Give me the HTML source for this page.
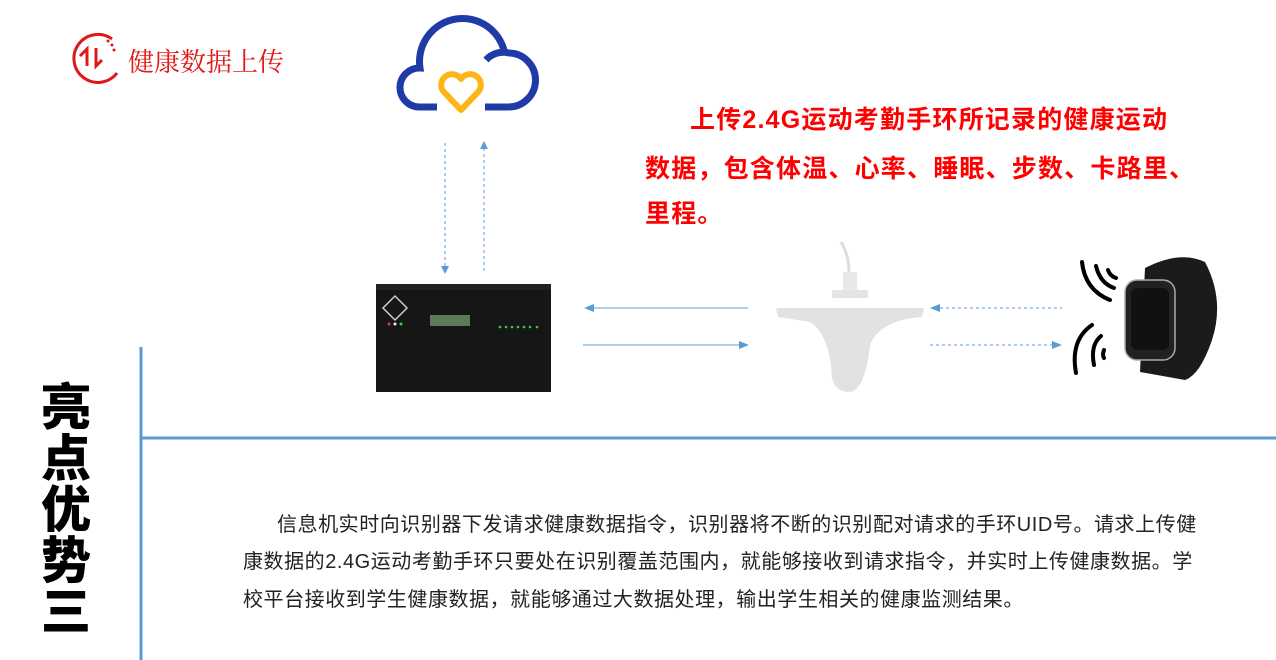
<!DOCTYPE html>
<html><head><meta charset="utf-8"><style>
body{margin:0;width:1276px;height:660px;background:#fff;position:relative;overflow:hidden;font-family:"Liberation Sans","Noto Sans CJK SC",sans-serif}
.a{position:absolute}
.red{color:#f00;font-weight:bold;font-size:25px;white-space:nowrap;letter-spacing:1.2px}
.body{font-size:20px;color:#222;white-space:nowrap;letter-spacing:0.55px}
.title{font-size:50px;font-weight:900;color:#000;line-height:51px;width:60px;text-align:center}
</style></head><body>
<svg class="a" style="left:0;top:0" width="1276" height="660">
<path d="M112 39 A24 24 0 1 0 117 73" fill="none" stroke="#e01818" stroke-width="3"/>
<circle cx="108" cy="41" r="1.5" fill="#e01818"/><circle cx="112" cy="45" r="1.5" fill="#e01818"/><circle cx="114" cy="50" r="1.5" fill="#e01818"/>
<path d="M80 56 L87 49 L87 66 M96 48 L96 66 L102 60" fill="none" stroke="#e01818" stroke-width="3"/>
<path d="M437 107 L419 107 A19 19 0 0 1 420 68 A40 40 0 0 1 505 55 M486 60 A23 23 0 0 1 509 53 A27 27 0 0 1 508 107 L485 107" fill="none" stroke="#1f3ba8" stroke-width="7"/>
<path d="M461 110 L443 91 A10 10 0 0 1 461 79 A10 10 0 0 1 479 91 Z" fill="none" stroke="#fdb515" stroke-width="6" stroke-linejoin="round"/>
<line x1="445" y1="143" x2="445" y2="268" stroke="#5b9bd5" stroke-dasharray="3,3"/>
<polygon points="441,266 449,266 445,274" fill="#5b9bd5"/>
<line x1="484" y1="148" x2="484" y2="272" stroke="#5b9bd5" stroke-dasharray="3,3"/>
<polygon points="480,149 488,149 484,141" fill="#5b9bd5"/>
<line x1="594" y1="308" x2="748" y2="308" stroke="#5b9bd5"/><polygon points="584,308 594,304 594,312" fill="#5b9bd5"/>
<line x1="583" y1="345" x2="740" y2="345" stroke="#5b9bd5"/><polygon points="749,345 739,341 739,349" fill="#5b9bd5"/>
<line x1="940" y1="308" x2="1062" y2="308" stroke="#5b9bd5" stroke-dasharray="3,3"/><polygon points="930,308 940,304 940,312" fill="#5b9bd5"/>
<line x1="930" y1="345" x2="1053" y2="345" stroke="#5b9bd5" stroke-dasharray="3,3"/><polygon points="1062,345 1052,341 1052,349" fill="#5b9bd5"/>
<rect x="376" y="284" width="175" height="108" fill="#161616"/>
<rect x="376" y="284" width="175" height="6" fill="#222"/>
<rect x="430" y="315" width="40" height="11" fill="#5c7a5a"/>
<path d="M395 296 L407 308 L395 320 L383 308Z" fill="none" stroke="#ccc" stroke-width="1.5"/>
<circle cx="389" cy="324" r="1.5" fill="#e33"/><circle cx="395" cy="324" r="1.5" fill="#eee"/><circle cx="401" cy="324" r="1.5" fill="#4c4"/>
<g fill="#3c3"><circle cx="500" cy="327" r="1.3"/><circle cx="506" cy="327" r="1.3"/><circle cx="512" cy="327" r="1.3"/><circle cx="518" cy="327" r="1.3"/><circle cx="524" cy="327" r="1.3"/><circle cx="530" cy="327" r="1.3"/><circle cx="537" cy="327" r="1.3"/></g>
<path d="M841 242 Q849 255 849 272" fill="none" stroke="#ddd" stroke-width="3"/>
<rect x="843" y="272" width="14" height="26" fill="#e8e8e8"/>
<rect x="832" y="290" width="36" height="8" rx="2" fill="#e4e4e4"/>
<path d="M776 308 L924 308 L922 317 Q880 320 870 345 Q865 390 850 392 Q835 392 832 378 Q830 335 810 322 Q785 318 778 317Z" fill="#e2e2e2"/>
<g fill="none" stroke="#000" stroke-width="4" stroke-linecap="round">
<path d="M1082 262 Q1085 290 1110 300"/><path d="M1096 266 Q1100 283 1114 288"/><path d="M1108 270 Q1110 276 1116 278"/>
<path d="M1092 325 Q1070 340 1076 373"/><path d="M1101 336 Q1090 345 1094 365"/><path d="M1104 350 Q1102 355 1104 358"/>
</g>
<path d="M1145 268 Q1180 250 1205 262 Q1225 300 1212 340 Q1200 375 1185 380 L1140 372 Z" fill="#1b1b1b"/>
<rect x="1125" y="280" width="50" height="80" rx="12" fill="#222" stroke="#aaa" stroke-width="1.5"/>
<rect x="1131" y="288" width="38" height="62" rx="6" fill="#111"/>
<line x1="141" y1="347" x2="141" y2="660" stroke="#5b9bd5" stroke-width="3"/>
<line x1="141" y1="438" x2="1276" y2="438" stroke="#5b9bd5" stroke-width="3"/>
</svg>
<div class="a" style="left:128px;top:42px;font-size:26px;color:#e01818;font-family:'Liberation Serif','Noto Serif CJK SC',serif;white-space:nowrap">健康数据上传</div>
<div class="a red" style="left:690px;top:100px">上传2.4G运动考勤手环所记录的健康运动</div>
<div class="a red" style="left:645px;top:149px">数据，包含体温、心率、睡眠、步数、卡路里、</div>
<div class="a red" style="left:645px;top:194px">里程。</div>
<div class="a title" style="left:36px;top:383px">亮<br>点<br>优<br>势<br>三</div>
<div class="a body" style="left:277px;top:508px">信息机实时向识别器下发请求健康数据指令，识别器将不断的识别配对请求的手环UID号。请求上传健</div>
<div class="a body" style="left:243px;top:545px">康数据的2.4G运动考勤手环只要处在识别覆盖范围内，就能够接收到请求指令，并实时上传健康数据。学</div>
<div class="a body" style="left:243px;top:583px">校平台接收到学生健康数据，就能够通过大数据处理，输出学生相关的健康监测结果。</div>
</body></html>
